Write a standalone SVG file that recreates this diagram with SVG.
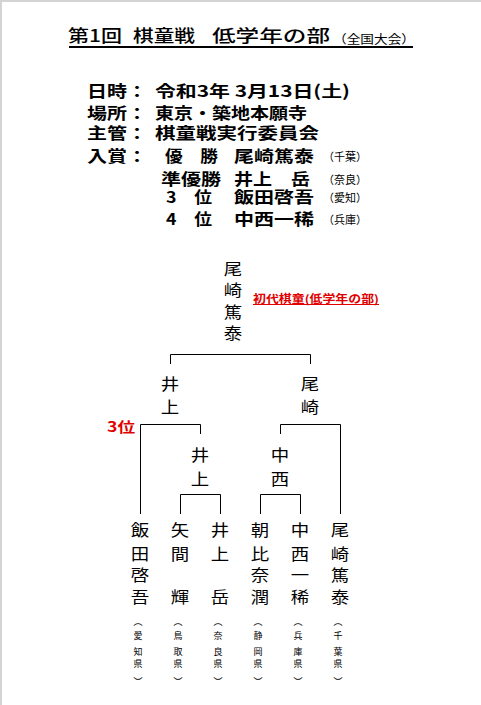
<svg xmlns="http://www.w3.org/2000/svg" width="481" height="705" viewBox="0 0 481 705">
<style>
text{font-family:"Noto Sans CJK JP","Noto Sans",sans-serif;fill:#000}
.t{font-size:17px;font-weight:500}
.ts{font-size:12px}
.b{font-size:16px;font-weight:bold}
.bs{font-size:11px}
.red{fill:#e00000;font-weight:bold}
.n{font-size:16px;text-anchor:middle}
.p{font-size:9px;text-anchor:middle}
.c{fill:none;stroke:#000;stroke-width:1}
</style>
<rect width="481" height="705" fill="#fff"/>
<path d="M1 705V1H481" fill="none" stroke="#d4d4d4" stroke-width="2"/>

<g id="title">
<text class="t" x="68" y="42" textLength="54" lengthAdjust="spacingAndGlyphs">第1回</text>
<text class="t" x="133" y="42" textLength="62" lengthAdjust="spacingAndGlyphs">棋童戦</text>
<text class="t" x="212" y="42" textLength="118" lengthAdjust="spacingAndGlyphs">低学年の部</text>
<text class="ts" x="333" y="43.5" textLength="82" lengthAdjust="spacingAndGlyphs">（全国大会）</text>
<line x1="69" y1="47" x2="413" y2="47" stroke="#000" stroke-width="2"/>
</g>

<g id="info">
<text class="b" x="87" y="96.5" textLength="60" lengthAdjust="spacingAndGlyphs">日時：</text>
<text class="b" x="155" y="96.5" textLength="195" lengthAdjust="spacingAndGlyphs">令和3年 3月13日(土)</text>
<text class="b" x="87" y="119" textLength="60" lengthAdjust="spacingAndGlyphs">場所：</text>
<text class="b" x="155" y="119" textLength="152" lengthAdjust="spacingAndGlyphs">東京・築地本願寺</text>
<text class="b" x="87" y="138.5" textLength="60" lengthAdjust="spacingAndGlyphs">主管：</text>
<text class="b" x="155" y="138.5" textLength="164" lengthAdjust="spacingAndGlyphs">棋童戦実行委員会</text>
<text class="b" x="87" y="161.5" textLength="60" lengthAdjust="spacingAndGlyphs">入賞：</text>
<text class="b" x="165" y="161.5" textLength="53" lengthAdjust="spacingAndGlyphs">優　勝</text>
<text class="b" x="234" y="161.5" textLength="80" lengthAdjust="spacingAndGlyphs">尾崎篤泰</text>
<text class="bs" x="323" y="160.5" textLength="44" lengthAdjust="spacingAndGlyphs">（千葉）</text>
<text class="b" x="161" y="184.5" textLength="60" lengthAdjust="spacingAndGlyphs">準優勝</text>
<text class="b" x="234" y="184.5" textLength="76" lengthAdjust="spacingAndGlyphs">井上　岳</text>
<text class="bs" x="323" y="183.5" textLength="44" lengthAdjust="spacingAndGlyphs">（奈良）</text>
<text class="b" x="166" y="202.5" textLength="46" lengthAdjust="spacingAndGlyphs">3　位</text>
<text class="b" x="234" y="202.5" textLength="80" lengthAdjust="spacingAndGlyphs">飯田啓吾</text>
<text class="bs" x="323" y="201.5" textLength="44" lengthAdjust="spacingAndGlyphs">（愛知）</text>
<text class="b" x="166" y="224.5" textLength="46" lengthAdjust="spacingAndGlyphs">4　位</text>
<text class="b" x="234" y="224.5" textLength="80" lengthAdjust="spacingAndGlyphs">中西一稀</text>
<text class="bs" x="323" y="223.5" textLength="44" lengthAdjust="spacingAndGlyphs">（兵庫）</text>
</g>

<g id="connectors">
<path class="c" d="M170.5 364V354.5H310.5V364"/>
<path class="c" d="M200.5 434V424.5H140.5V514"/>
<path class="c" d="M280.5 434V424.5H340.5V514"/>
<path class="c" d="M180.5 514V494.5H220.5V514"/>
<path class="c" d="M260.5 514V494.5H300.5V514"/>
</g>

<g id="champion">
<g transform="translate(233 0) scale(1.15 1)">
<text class="n" x="0" y="275">尾</text>
<text class="n" x="0" y="296">崎</text>
<text class="n" x="0" y="318">篤</text>
<text class="n" x="0" y="339">泰</text>
</g>
<text class="red" x="253" y="302.5" font-size="11" textLength="126" lengthAdjust="spacingAndGlyphs">初代棋童(低学年の部)</text>
<line x1="253" y1="304.5" x2="379" y2="304.5" stroke="#e00000" stroke-width="1"/>
</g>

<g id="final-left" transform="translate(170 0) scale(1.15 1)">
<text class="n" x="0" y="390.5">井</text>
<text class="n" x="0" y="413.5">上</text>
</g>
<g id="final-right" transform="translate(310 0) scale(1.15 1)">
<text class="n" x="0" y="390.5">尾</text>
<text class="n" x="0" y="413.5">崎</text>
</g>
<g id="third-label">
<text class="red" x="107" y="431.5" font-size="14" textLength="28" lengthAdjust="spacingAndGlyphs">3位</text>
</g>
<g id="semi-left" transform="translate(200 0) scale(1.15 1)">
<text class="n" x="0" y="461.5">井</text>
<text class="n" x="0" y="485">上</text>
</g>
<g id="semi-right" transform="translate(280 0) scale(1.15 1)">
<text class="n" x="0" y="461.5">中</text>
<text class="n" x="0" y="485">西</text>
</g>

<g id="leaf-1">
<g transform="translate(140 0) scale(1.15 1)">
<text class="n" x="0" y="536">飯</text><text class="n" x="0" y="560">田</text><text class="n" x="0" y="581.5">啓</text><text class="n" x="0" y="603">吾</text>
</g>
<text class="p" x="138" y="625">︵</text><text class="p" x="138" y="639">愛</text><text class="p" x="138" y="655">知</text><text class="p" x="138" y="667">県</text><text class="p" x="138" y="685">︶</text>
</g>
<g id="leaf-2">
<g transform="translate(180 0) scale(1.15 1)">
<text class="n" x="0" y="536">矢</text><text class="n" x="0" y="560">間</text><text class="n" x="0" y="603">輝</text>
</g>
<text class="p" x="178" y="625">︵</text><text class="p" x="178" y="639">鳥</text><text class="p" x="178" y="655">取</text><text class="p" x="178" y="667">県</text><text class="p" x="178" y="685">︶</text>
</g>
<g id="leaf-3">
<g transform="translate(220 0) scale(1.15 1)">
<text class="n" x="0" y="536">井</text><text class="n" x="0" y="560">上</text><text class="n" x="0" y="603">岳</text>
</g>
<text class="p" x="218" y="625">︵</text><text class="p" x="218" y="639">奈</text><text class="p" x="218" y="655">良</text><text class="p" x="218" y="667">県</text><text class="p" x="218" y="685">︶</text>
</g>
<g id="leaf-4">
<g transform="translate(260 0) scale(1.15 1)">
<text class="n" x="0" y="536">朝</text><text class="n" x="0" y="560">比</text><text class="n" x="0" y="581.5">奈</text><text class="n" x="0" y="603">潤</text>
</g>
<text class="p" x="258" y="625">︵</text><text class="p" x="258" y="639">静</text><text class="p" x="258" y="655">岡</text><text class="p" x="258" y="667">県</text><text class="p" x="258" y="685">︶</text>
</g>
<g id="leaf-5">
<g transform="translate(300 0) scale(1.15 1)">
<text class="n" x="0" y="536">中</text><text class="n" x="0" y="560">西</text><text class="n" x="0" y="581.5">一</text><text class="n" x="0" y="603">稀</text>
</g>
<text class="p" x="298" y="625">︵</text><text class="p" x="298" y="639">兵</text><text class="p" x="298" y="655">庫</text><text class="p" x="298" y="667">県</text><text class="p" x="298" y="685">︶</text>
</g>
<g id="leaf-6">
<g transform="translate(340 0) scale(1.15 1)">
<text class="n" x="0" y="536">尾</text><text class="n" x="0" y="560">崎</text><text class="n" x="0" y="581.5">篤</text><text class="n" x="0" y="603">泰</text>
</g>
<text class="p" x="338" y="625">︵</text><text class="p" x="338" y="639">千</text><text class="p" x="338" y="655">葉</text><text class="p" x="338" y="667">県</text><text class="p" x="338" y="685">︶</text>
</g>
</svg>
